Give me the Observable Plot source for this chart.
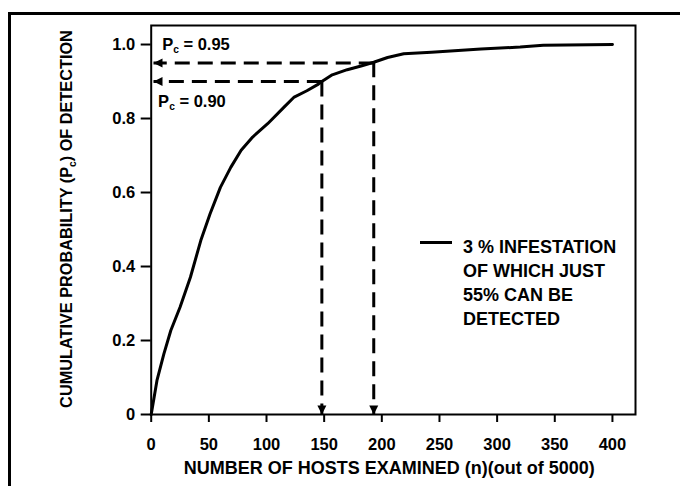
<!DOCTYPE html>
<html>
<head>
<meta charset="utf-8">
<script src="https://cdn.jsdelivr.net/npm/d3@7"></script>
<script src="https://cdn.jsdelivr.net/npm/@observablehq/plot@0.6"></script>
<style>
  html, body { margin: 0; padding: 0; background: #fff; }
  body { width: 680px; height: 486px; position: relative; overflow: hidden;
         font-family: "Liberation Sans", Arial, sans-serif; }
  #outer { position: absolute; left: 8px; top: 12px; width: 800px; height: 700px;
           border: 3px solid #000; box-sizing: border-box; }
  #chart { position: absolute; left: 0; top: 0; }
  #legendLine { position: absolute; left: 420px; top: 240.5px; width: 32px; height: 3px; background: #000; }
  #legendText { position: absolute; left: 463px; top: 234.5px; font-size: 18px; font-weight: bold;
                line-height: 24px; color: #000; white-space: nowrap; }
</style>
</head>
<body>
<div id="outer"></div>
<div id="chart"></div>
<div id="legendLine"></div>
<div id="legendText"></div>
<script>
// ---- data ----
const hostsExamined = [0, 5, 11, 17, 25, 34, 43, 51, 60, 69, 78, 88, 101, 115, 124, 135, 145, 148, 157, 170, 182, 193, 205, 219, 243, 286, 320, 340, 400];
const probDetection = [0, 0.092, 0.164, 0.227, 0.29, 0.371, 0.47, 0.542, 0.614, 0.668, 0.714, 0.75, 0.786, 0.83, 0.858, 0.875, 0.893, 0.90, 0.918, 0.932, 0.942, 0.952, 0.965, 0.975, 0.979, 0.988, 0.993, 0.998, 1.0];

const xTicks = [0, 50, 100, 150, 200, 250, 300, 350, 400];
const yTicks = [0, 0.2, 0.4, 0.6, 0.8, 1.0];
const yTickLabels = ["0", "0.2", "0.4", "0.6", "0.8", "1.0"];

// dashed arrows (start on curve, end at axis)
const arrowX1 = [193, 148, 148, 193];
const arrowY1 = [0.95, 0.90, 0.90, 0.952];
const arrowX2 = [2, 2, 148, 193];
const arrowY2 = [0.95, 0.90, 0, 0];

const annoText = ["Pc = 0.95", "Pc = 0.90"];
const annoX = [9.5, 6];
const annoY = [1.0, 0.846];

const xLabel = "NUMBER OF HOSTS EXAMINED (n)(out of 5000)";
const yLabel = "CUMULATIVE PROBABILITY (Pc) OF DETECTION";
const legendLines = ["3 % INFESTATION", "OF WHICH JUST", "55% CAN BE", "DETECTED"];

// ---- tables built from arrays ----
const curve = hostsExamined.map((x, i) => ({x, y: probDetection[i]}));
const arrows = arrowX1.map((x1, i) => ({x1, y1: arrowY1[i], x2: arrowX2[i], y2: arrowY2[i]}));
const annos = annoText.map((t, i) => ({t, x: annoX[i], y: annoY[i]}));

const svg = Plot.plot({
  width: 680,
  height: 486,
  marginLeft: 150.7,
  marginRight: 45,
  marginTop: 25,
  marginBottom: 72,
  style: { fontFamily: "'Liberation Sans', Arial, sans-serif", fontSize: "16.5px", fontWeight: "bold", color: "#000", background: "transparent" },
  x: { domain: [0, 420] },
  y: { domain: [0, 1.0514] },
  marks: [
    Plot.frame({ stroke: "#000", strokeWidth: 2 }),
    Plot.axisX({ ticks: xTicks, tickSize: 8, tickPadding: 16, strokeWidth: 2, label: null, fontSize: 16.5 }),
    Plot.axisY({ ticks: yTicks, tickSize: 10, tickPadding: 6, strokeWidth: 2, label: null, fontSize: 16.5,
                 tickFormat: d => yTickLabels[yTicks.findIndex(t => Math.abs(t - d) < 1e-9)] }),
    Plot.line(curve, { x: "x", y: "y", stroke: "#000", strokeWidth: 3, strokeLinejoin: "round" }),
    Plot.link(arrows, { x1: "x1", y1: "y1", x2: "x2", y2: "y2", stroke: "#000", strokeWidth: 3,
                        strokeDasharray: "15,8", markerEnd: "arrow" }),
    Plot.text(annos, { x: "x", y: "y", text: "t", textAnchor: "start", fontSize: 16.5, fontWeight: "bold" }),
    Plot.text([xLabel], { frameAnchor: "bottom", dy: 54, dx: -4, textAnchor: "middle", lineAnchor: "middle", fontSize: 18, fontWeight: "bold" }),
    Plot.text([yLabel], { frameAnchor: "left", dx: -84, dy: -1, rotate: -90, textAnchor: "middle", lineAnchor: "middle", fontSize: 16.3, fontWeight: "bold" })
  ]
});

// filled triangular arrowheads
svg.querySelectorAll("marker").forEach(m => {
  m.setAttribute("viewBox", "-12 -6 14 12");
  m.setAttribute("markerUnits", "userSpaceOnUse");
  m.setAttribute("markerWidth", "14");
  m.setAttribute("markerHeight", "12");
  m.setAttribute("fill", "#000");
  m.setAttribute("stroke", "none");
  m.setAttribute("stroke-dasharray", "none");
  const p = m.querySelector("path");
  if (p) { p.setAttribute("d", "M-9,-4.5L0,0L-9,4.5Z"); p.setAttribute("stroke", "none"); }
});

// subscript c in "Pc"
const NS = "http://www.w3.org/2000/svg";
svg.querySelectorAll("text").forEach(t => {
  const s = t.textContent;
  if (!s.includes("Pc")) return;
  const k = s.indexOf("Pc");
  const fs = parseFloat(t.getAttribute("font-size") || getComputedStyle(t).fontSize) || 16.5;
  const shift = fs * 0.22;
  t.textContent = "";
  t.appendChild(document.createTextNode(s.slice(0, k) + "P"));
  const sub = document.createElementNS(NS, "tspan");
  sub.setAttribute("font-size", (fs * 0.62).toFixed(2));
  sub.setAttribute("dy", shift.toFixed(2));
  sub.textContent = "c";
  t.appendChild(sub);
  const rest = document.createElementNS(NS, "tspan");
  rest.setAttribute("dy", (-shift).toFixed(2));
  rest.textContent = s.slice(k + 2);
  t.appendChild(rest);
});

document.getElementById("chart").appendChild(svg);
document.getElementById("legendText").innerHTML = legendLines.join("<br>");
</script>
</body>
</html>
